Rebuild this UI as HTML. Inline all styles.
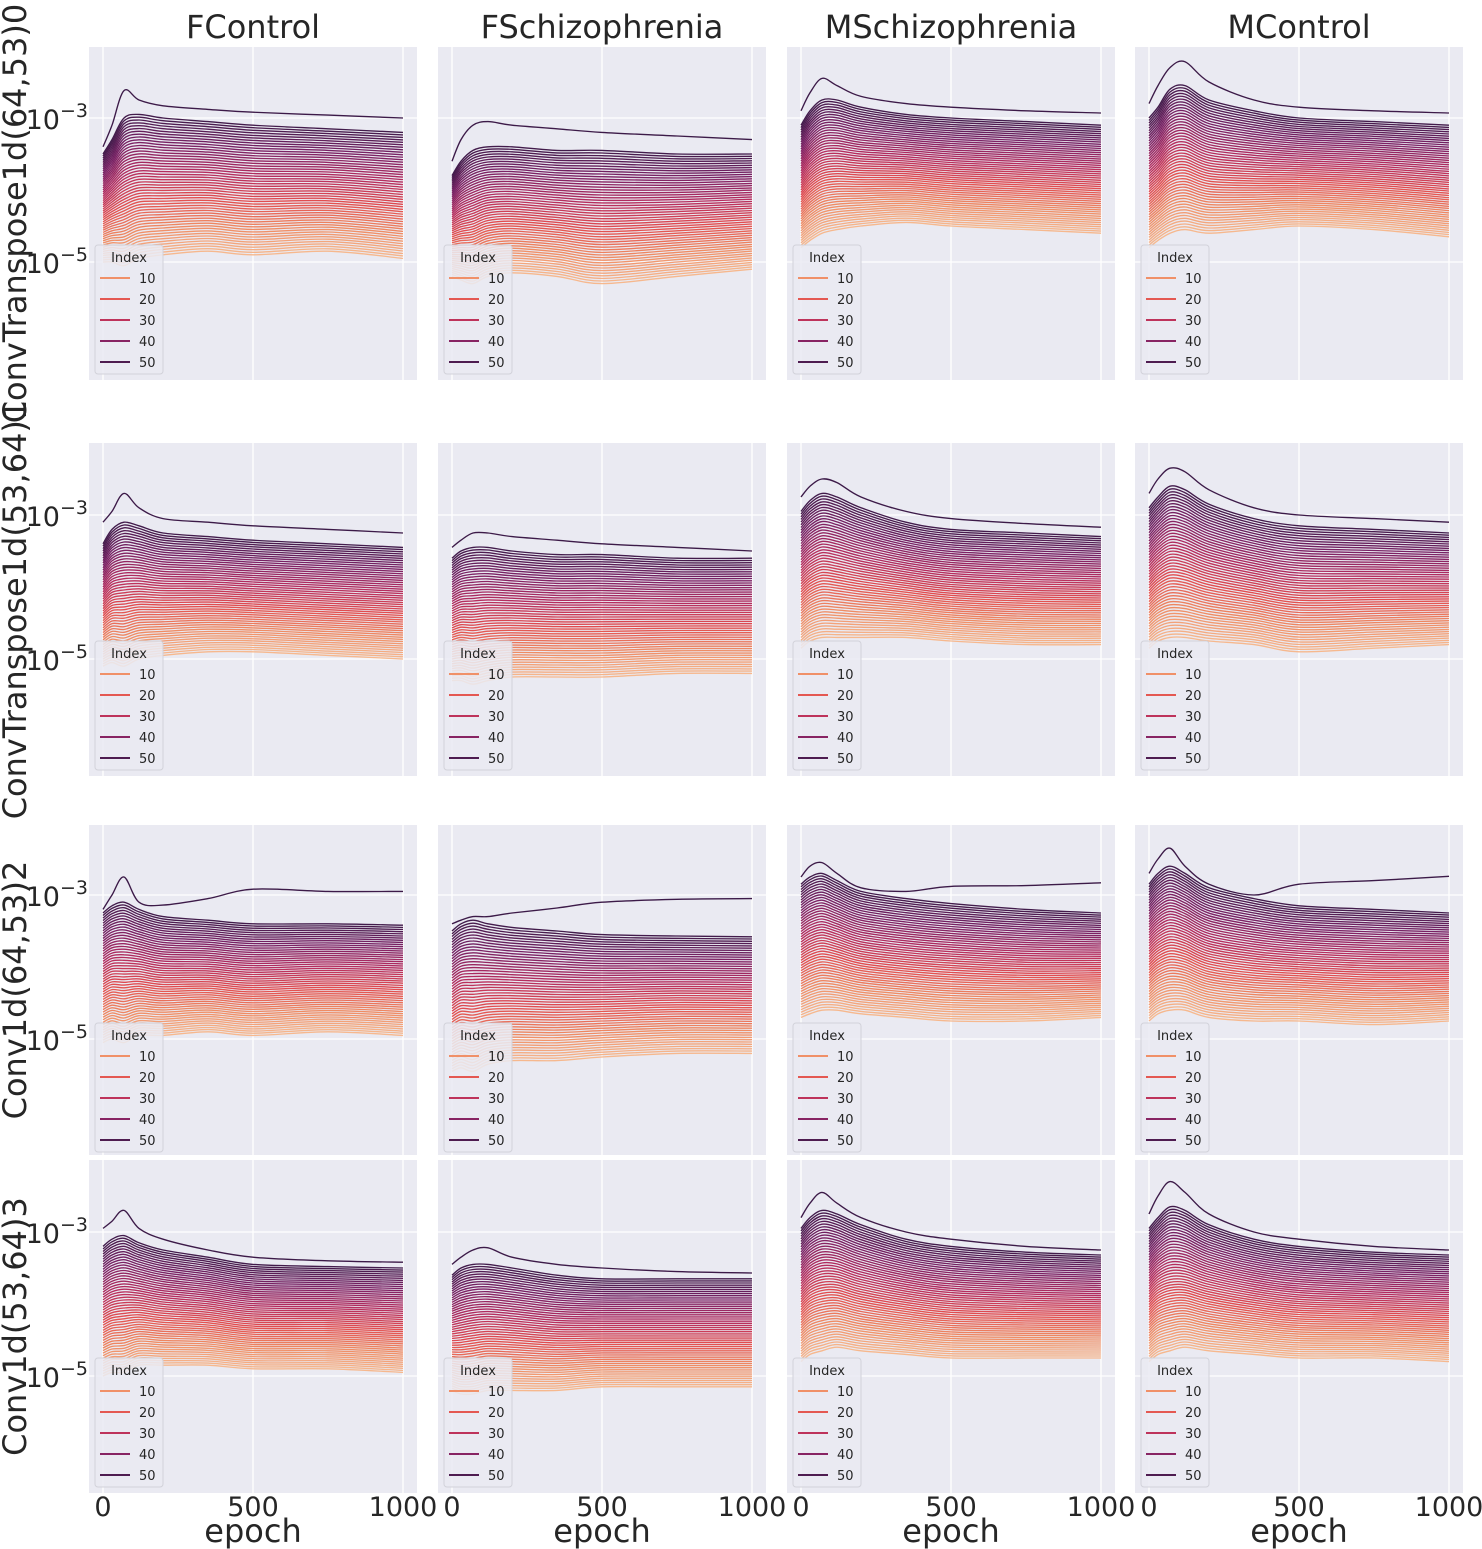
<!DOCTYPE html>
<html><head><meta charset="utf-8"><style>
html,body{margin:0;padding:0;background:#fff;}
svg{display:block;font-family:"DejaVu Sans","Liberation Sans",sans-serif;}
</style></head><body>
<svg id="fig" width="1482" height="1549" viewBox="0 0 1482 1549" xmlns="http://www.w3.org/2000/svg"></svg>
<script>
const epochs=[0,30,70,120,200,350,500,750,1000];
const colTitles=["FControl","FSchizophrenia","MSchizophrenia","MControl"];
const rowTitles=["ConvTranspose1d(64,53)0","ConvTranspose1d(53,64)1","Conv1d(64,53)2","Conv1d(53,64)3"];
const xTicks=[0,500,1000];
const yTicks=[-3,-5];
const legendLabels=[10,20,30,40,50];
const nLines=53;
// per-panel profiles: log10 values at epochs [row][col]
const maxLine=[
[[-3.4,-3.1,-2.62,-2.75,-2.83,-2.88,-2.92,-2.96,-3.0],[-3.6,-3.3,-3.1,-3.05,-3.1,-3.15,-3.2,-3.25,-3.3],[-2.9,-2.65,-2.45,-2.55,-2.7,-2.8,-2.85,-2.9,-2.93],[-2.8,-2.55,-2.3,-2.22,-2.5,-2.75,-2.85,-2.9,-2.93]],
[[-3.1,-2.95,-2.7,-2.9,-3.05,-3.1,-3.15,-3.2,-3.25],[-3.45,-3.35,-3.25,-3.25,-3.3,-3.35,-3.4,-3.45,-3.5],[-2.75,-2.6,-2.5,-2.55,-2.75,-2.95,-3.05,-3.12,-3.17],[-2.7,-2.5,-2.35,-2.4,-2.65,-2.9,-3.0,-3.05,-3.1]],
[[-3.2,-3.0,-2.75,-3.1,-3.14,-3.05,-2.92,-2.95,-2.95],[-3.4,-3.35,-3.3,-3.3,-3.25,-3.18,-3.1,-3.06,-3.05],[-2.75,-2.6,-2.55,-2.7,-2.9,-2.95,-2.88,-2.87,-2.83],[-2.7,-2.5,-2.35,-2.6,-2.85,-3.0,-2.85,-2.8,-2.74]],
[[-2.95,-2.85,-2.7,-2.95,-3.1,-3.25,-3.35,-3.4,-3.42],[-3.45,-3.35,-3.25,-3.22,-3.35,-3.45,-3.5,-3.55,-3.57],[-2.8,-2.6,-2.45,-2.6,-2.8,-3.0,-3.1,-3.2,-3.25],[-2.75,-2.5,-2.3,-2.45,-2.75,-3.0,-3.1,-3.2,-3.25]]];
const highLine=[
[[-3.5,-3.3,-3.0,-2.95,-3.0,-3.05,-3.1,-3.15,-3.2],[-3.8,-3.6,-3.45,-3.4,-3.4,-3.45,-3.45,-3.5,-3.5],[-3.1,-2.9,-2.75,-2.75,-2.85,-2.95,-3.0,-3.05,-3.1],[-3.0,-2.85,-2.6,-2.55,-2.75,-2.9,-3.0,-3.05,-3.1]],
[[-3.4,-3.2,-3.1,-3.15,-3.25,-3.3,-3.35,-3.4,-3.45],[-3.6,-3.5,-3.45,-3.45,-3.5,-3.55,-3.55,-3.6,-3.6],[-2.95,-2.8,-2.7,-2.75,-2.9,-3.1,-3.2,-3.25,-3.3],[-2.9,-2.75,-2.6,-2.65,-2.85,-3.05,-3.15,-3.2,-3.25]],
[[-3.25,-3.15,-3.1,-3.2,-3.3,-3.35,-3.4,-3.4,-3.42],[-3.5,-3.4,-3.35,-3.4,-3.45,-3.5,-3.55,-3.57,-3.58],[-2.85,-2.75,-2.7,-2.8,-2.95,-3.05,-3.12,-3.2,-3.25],[-2.85,-2.7,-2.6,-2.7,-2.9,-3.05,-3.15,-3.2,-3.25]],
[[-3.2,-3.1,-3.05,-3.15,-3.25,-3.35,-3.45,-3.48,-3.5],[-3.6,-3.5,-3.45,-3.45,-3.5,-3.6,-3.65,-3.65,-3.65],[-2.95,-2.8,-2.7,-2.75,-2.9,-3.1,-3.2,-3.28,-3.32],[-2.95,-2.8,-2.65,-2.7,-2.9,-3.1,-3.2,-3.28,-3.32]]];
const midLine=[
[[-4.25,-4.15,-4.03,-3.95,-3.95,-3.95,-4.0,-4.0,-4.08],[-4.5,-4.43,-4.38,-4.3,-4.28,-4.33,-4.38,-4.35,-4.3],[-3.95,-3.8,-3.68,-3.65,-3.68,-3.7,-3.75,-3.8,-3.85],[-3.9,-3.78,-3.6,-3.55,-3.68,-3.73,-3.75,-3.8,-3.88]],
[[-4.25,-4.13,-4.1,-4.08,-4.1,-4.1,-4.13,-4.18,-4.23],[-4.45,-4.4,-4.4,-4.38,-4.38,-4.4,-4.4,-4.4,-4.4],[-3.9,-3.78,-3.7,-3.73,-3.8,-3.9,-3.98,-4.03,-4.05],[-3.88,-3.75,-3.65,-3.68,-3.8,-3.93,-4.03,-4.03,-4.03]],
[[-4.15,-4.08,-4.08,-4.08,-4.13,-4.13,-4.18,-4.15,-4.18],[-4.48,-4.4,-4.4,-4.38,-4.38,-4.4,-4.4,-4.38,-4.39],[-3.78,-3.7,-3.65,-3.7,-3.8,-3.88,-3.93,-3.98,-3.98],[-3.8,-3.68,-3.6,-3.65,-3.8,-3.9,-3.95,-4.0,-4.0]],
[[-4.1,-4.03,-4.0,-4.0,-4.05,-4.1,-4.18,-4.19,-4.23],[-4.4,-4.38,-4.35,-4.33,-4.35,-4.4,-4.4,-4.4,-4.4],[-3.88,-3.75,-3.68,-3.68,-3.78,-3.9,-3.98,-4.02,-4.04],[-3.88,-3.75,-3.68,-3.68,-3.78,-3.9,-3.98,-4.02,-4.06]]];
const lowLine=[
[[-5.0,-5.0,-5.05,-4.95,-4.9,-4.85,-4.9,-4.85,-4.95],[-5.2,-5.25,-5.3,-5.2,-5.15,-5.2,-5.3,-5.2,-5.1],[-4.8,-4.7,-4.6,-4.55,-4.5,-4.45,-4.5,-4.55,-4.6],[-4.8,-4.7,-4.6,-4.55,-4.6,-4.55,-4.5,-4.55,-4.65]],
[[-5.1,-5.05,-5.1,-5.0,-4.95,-4.9,-4.9,-4.95,-5.0],[-5.3,-5.3,-5.35,-5.3,-5.25,-5.25,-5.25,-5.2,-5.2],[-4.85,-4.75,-4.7,-4.7,-4.7,-4.7,-4.75,-4.8,-4.8],[-4.85,-4.75,-4.7,-4.7,-4.75,-4.8,-4.9,-4.85,-4.8]],
[[-5.05,-5.0,-5.05,-4.95,-4.95,-4.9,-4.95,-4.9,-4.95],[-5.45,-5.4,-5.45,-5.35,-5.3,-5.3,-5.25,-5.2,-5.2],[-4.7,-4.65,-4.6,-4.6,-4.65,-4.7,-4.75,-4.75,-4.7],[-4.75,-4.65,-4.6,-4.6,-4.7,-4.75,-4.75,-4.8,-4.75]],
[[-5.0,-4.95,-4.95,-4.85,-4.85,-4.85,-4.9,-4.9,-4.95],[-5.2,-5.25,-5.25,-5.2,-5.2,-5.2,-5.15,-5.15,-5.15],[-4.8,-4.7,-4.65,-4.6,-4.65,-4.7,-4.75,-4.75,-4.75],[-4.8,-4.7,-4.65,-4.6,-4.65,-4.7,-4.75,-4.75,-4.8]]];

const NS="http://www.w3.org/2000/svg";
const svg=document.getElementById('fig');
const colX=[89,438,787,1135], panelW=328;
const rowTop=[47,443,825,1160], rowRef=[118,515,895,1232], panelH=[333,333,330,333];
const decade=72;
function mk(tag,attrs,parent){const e=document.createElementNS(NS,tag);for(const k in attrs)e.setAttribute(k,attrs[k]);(parent||svg).appendChild(e);return e;}
function xScale(c,ep){return colX[c]+14+ep*0.3;}
function yScale(r,lg){return rowRef[r]+(-3-lg)*decade;}
const stops=[[0,[246,184,142]],[0.2,[239,138,98]],[0.4,[226,77,79]],[0.6,[180,44,94]],[0.8,[121,33,100]],[1,[60,26,72]]];
function color(t){for(let i=1;i<stops.length;i++){if(t<=stops[i][0]){const a=stops[i-1],b=stops[i];const u=(t-a[0])/(b[0]-a[0]);const c=a[1].map((v,k)=>Math.round(v+(b[1][k]-v)*u));return `rgb(${c[0]},${c[1]},${c[2]})`;}}return 'rgb(60,26,72)';}
function smoothPath(pts){let d=`M${pts[0][0].toFixed(1)},${pts[0][1].toFixed(1)}`;for(let i=0;i<pts.length-1;i++){const p0=pts[Math.max(0,i-1)],p1=pts[i],p2=pts[i+1],p3=pts[Math.min(pts.length-1,i+2)];const c1=[p1[0]+(p2[0]-p0[0])/6,p1[1]+(p2[1]-p0[1])/6],c2=[p2[0]-(p3[0]-p1[0])/6,p2[1]-(p3[1]-p1[1])/6];d+=`C${c1[0].toFixed(1)},${c1[1].toFixed(1)} ${c2[0].toFixed(1)},${c2[1].toFixed(1)} ${p2[0].toFixed(1)},${p2[1].toFixed(1)}`;}return d;}
const defs=mk('defs',{});
for(let r=0;r<4;r++){for(let c=0;c<4;c++){
  const g=mk('g',{});
  
  
  const cp=mk('clipPath',{id:`cp${r}${c}`},defs);
  mk('rect',{x:colX[c],y:rowTop[r],width:panelW,height:panelH[r]},cp);
  const bg=mk('rect',{x:colX[c],y:rowTop[r],width:panelW,height:panelH[r],fill:'#eaeaf2'},g);
  
  
  xTicks.forEach(t=>{const l=mk('line',{x1:xScale(c,t),x2:xScale(c,t),y1:rowTop[r],y2:rowTop[r]+panelH[r],stroke:'#fff','stroke-width':1.3},g);});
  yTicks.forEach(t=>{const l=mk('line',{x1:colX[c],x2:colX[c]+panelW,y1:yScale(r,t),y2:yScale(r,t),stroke:'#fff','stroke-width':1.3},g);});
  const lg=mk('g',{'clip-path':`url(#cp${r}${c})`},g);
  for(let i=0;i<nLines;i++){
    let vals;
    if(i===nLines-1){vals=maxLine[r][c];}
    else{const f=i/(nLines-2);vals=epochs.map((e,k)=>f<0.5?lowLine[r][c][k]+(midLine[r][c][k]-lowLine[r][c][k])*f*2:midLine[r][c][k]+(highLine[r][c][k]-midLine[r][c][k])*(f-0.5)*2);}
    const pts=epochs.map((e,k)=>[xScale(c,e),yScale(r,vals[k])]);
    const p=mk('path',{d:smoothPath(pts),fill:'none',stroke:color(i/(nLines-1)),'stroke-width':1.35},lg);
    
    
  }
  const lx=colX[c]+6, ly=rowTop[r]+198;
  const leg=mk('g',{},g);
  
  
  mk('rect',{x:lx,y:ly,width:68,height:129,rx:3,fill:'#eaeaf2','fill-opacity':0.85,stroke:'#d2d2da','stroke-width':1},leg);
  const tt=mk('text',{x:lx+34,y:ly+17,'font-size':13,'text-anchor':'middle',fill:'#262626'},leg);tt.textContent='Index';
  legendLabels.forEach((v,k)=>{const yy=ly+33+k*21;
    const e=mk('g',{},leg);
    mk('line',{x1:lx+5,x2:lx+35,y1:yy,y2:yy,stroke:color((v-1)/(nLines-1)),'stroke-width':2},e);
    const t=mk('text',{x:lx+44,y:yy+5,'font-size':13,fill:'#262626'},e);t.textContent=v;});
}}
colTitles.forEach((t,c)=>{const e=mk('text',{x:colX[c]+164,y:38,'font-size':32,'text-anchor':'middle',fill:'#262626'});e.textContent=t;});
rowTitles.forEach((t,r)=>{const cy=rowTop[r]+panelH[r]/2;const e=mk('text',{x:0,y:0,'font-size':32,'text-anchor':'middle',fill:'#262626',transform:`translate(26,${cy}) rotate(-90)`});e.textContent=t;});
for(let r=0;r<4;r++){yTicks.forEach(t=>{const e=mk('text',{x:88,y:yScale(r,t)+11,'font-size':27,'text-anchor':'end',fill:'#262626'});
  
  const a=mk('tspan',{},e);a.textContent='10';const b=mk('tspan',{'font-size':19,dy:-12},e);b.textContent='−'+Math.abs(t);});}
for(let c=0;c<4;c++){xTicks.forEach(t=>{const e=mk('text',{x:xScale(c,t),y:1516,'font-size':27,'text-anchor':'middle',fill:'#262626'});e.textContent=t;});
  const e=mk('text',{x:colX[c]+164,y:1542,'font-size':32,'text-anchor':'middle',fill:'#262626'});e.textContent='epoch';}
</script>
</body></html>
